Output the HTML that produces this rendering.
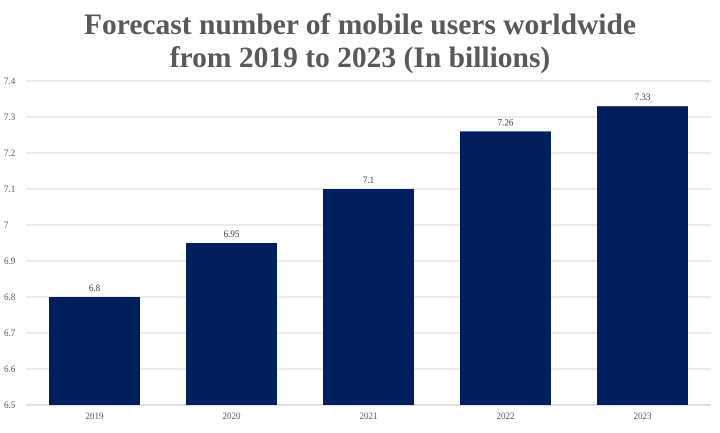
<!DOCTYPE html>
<html><head><meta charset="utf-8">
<style>
body{margin:0;background:#fff;}
svg text{font-family:"Liberation Serif",serif;}
</style></head>
<body>
<svg id="chart" width="720" height="428" xmlns="http://www.w3.org/2000/svg">
<text x="360" y="34" text-anchor="middle" font-size="29.5" font-weight="bold" fill="#595959">Forecast number of mobile users worldwide</text>
<text x="360" y="67" text-anchor="middle" font-size="29.5" font-weight="bold" fill="#595959">from 2019 to 2023 (In billions)</text>
<g id="grid"></g><g id="bars"></g><g id="labels"></g>
</svg>
<script>
const categories=["2019","2020","2021","2022","2023"];
const values=[6.8,6.95,7.1,7.26,7.33];
const valueLabels=["6.8","6.95","7.1","7.26","7.33"];
const yTicks=[6.5,6.6,6.7,6.8,6.9,7,7.1,7.2,7.3,7.4];
const yTickLabels=["6.5","6.6","6.7","6.8","6.9","7","7.1","7.2","7.3","7.4"];
const NS="http://www.w3.org/2000/svg";
const yMin=6.5,yMax=7.4,plotTop=81,plotBottom=405,plotLeft=26,plotRight=711;
const yScale=v=>plotBottom-(v-yMin)/(yMax-yMin)*(plotBottom-plotTop);
const band=(plotRight-plotLeft)/categories.length;
const xScale=i=>plotLeft+band*i;
const bw=91;
function mk(tag,attrs,parent){const e=document.createElementNS(NS,tag);for(const k in attrs)e.setAttribute(k,attrs[k]);parent.appendChild(e);return e;}
const grid=document.getElementById('grid'),bars=document.getElementById('bars'),labels=document.getElementById('labels');
yTicks.forEach((t,i)=>{
 const l=mk('line',{x1:plotLeft,x2:plotRight,y1:yScale(t),y2:yScale(t),stroke:i===0?'#bfbfbf':'#d9d9d9','stroke-width':1},grid);
 
 
 const tx=mk('text',{x:4,y:yScale(t)+3,'font-size':9,fill:'#595959'},grid);
 tx.textContent=yTickLabels[i];
 
 
});
categories.forEach((c,i)=>{
 const cx=xScale(i)+band/2;
 const r=mk('rect',{x:cx-bw/2,y:yScale(values[i]),width:bw,height:plotBottom-yScale(values[i]),fill:'#001f5c'},bars);
 
 
 const v=mk('text',{x:cx,y:yScale(values[i])-6,'text-anchor':'middle','font-size':9,fill:'#404040'},labels);
 v.textContent=valueLabels[i];
 
 
 const xl=mk('text',{x:cx,y:419,'text-anchor':'middle','font-size':9,fill:'#595959'},labels);
 xl.textContent=c;
 
 
});
</script>
</body></html>
